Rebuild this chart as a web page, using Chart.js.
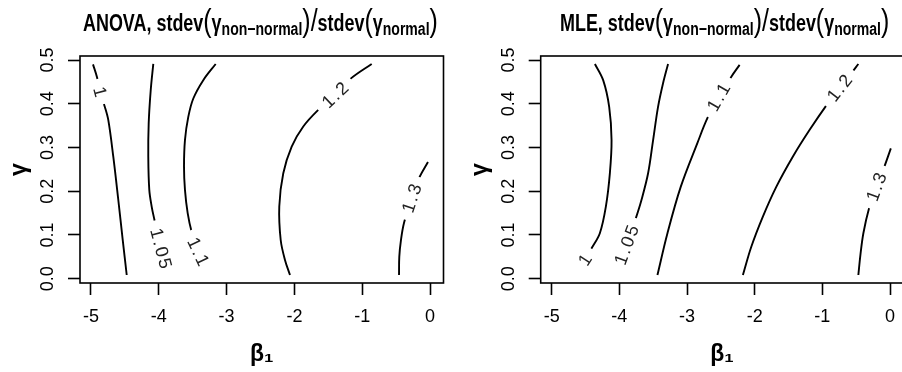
<!DOCTYPE html>
<html>
<head>
<meta charset="utf-8">
<script src="https://cdn.jsdelivr.net/npm/chart.js@4.4.1/dist/chart.umd.min.js"></script>
<style>
  html, body { margin: 0; padding: 0; background: #fff; }
  #wrap { position: relative; width: 902px; height: 372px; overflow: hidden; }
  .panel { position: absolute; top: 0; height: 372px; }
  .title {
    position: absolute; top: 2px; white-space: nowrap; color: #000;
    font: bold 23px "Liberation Sans", Arial, sans-serif; line-height: 36px;
    transform: scaleX(0.78); transform-origin: 0 0;
  }
  .title .p { font-size: 32px; font-weight: normal; }
  .title sub { font-size: 18px; vertical-align: -4px; line-height: 0; }
</style>
</head>
<body>
<div id="wrap">
  <div class="panel" style="left:0"><canvas id="anovaChart" width="451" height="372"></canvas></div>
  <div class="panel" style="left:451px"><canvas id="mleChart" width="460" height="372"></canvas></div>
  <div class="title" style="left:83px">ANOVA, stdev<span class="p">(</span>γ<sub>non−normal</sub><span class="p">)/</span>stdev<span class="p">(</span>γ<sub>normal</sub><span class="p">)</span></div>
  <div class="title" style="left:560px">MLE, stdev<span class="p">(</span>γ<sub>non−normal</sub><span class="p">)/</span>stdev<span class="p">(</span>γ<sub>normal</sub><span class="p">)</span></div>
</div>
<script>
// axes
const xTicks = [-5, -4, -3, -2, -1, 0];
const xTickLabels = ["-5", "-4", "-3", "-2", "-1", "0"];
const yTicks = [0, 0.1, 0.2, 0.3, 0.4, 0.5];
const yTickLabels = ["0.0", "0.1", "0.2", "0.3", "0.4", "0.5"];
const levels = ["1", "1.05", "1.1", "1.2", "1.3"];

// ANOVA contours, [beta1, gamma]
const anova100 = [[-4.97, 0.49], [-4.91, 0.46], [-4.867, 0.4275], [-4.80, 0.395], [-4.745, 0.363], [-4.671, 0.279], [-4.597, 0.18], [-4.532, 0.089], [-4.473, 0.0085]];
const anova105 = [[-4.081, 0.491], [-4.119, 0.431], [-4.149, 0.355], [-4.155, 0.279], [-4.14, 0.203], [-4.105, 0.165], [-4.066, 0.136], [-3.968, 0.0695], [-3.879, 0.027]];
const anova110 = [[-3.161, 0.491], [-3.344, 0.454], [-3.491, 0.412], [-3.565, 0.37], [-3.614, 0.317], [-3.628, 0.256], [-3.614, 0.203], [-3.574, 0.15], [-3.515, 0.107], [-3.417, 0.062], [-3.293, 0.035]];
const anova120 = [[-0.86, 0.491], [-1.165, 0.458], [-1.401, 0.42], [-1.648, 0.386], [-1.869, 0.348], [-2.04, 0.302], [-2.164, 0.241], [-2.223, 0.165], [-2.202, 0.0885], [-2.139, 0.043], [-2.065, 0.0085]];
const anova130 = [[-0.03, 0.267], [-0.162, 0.23], [-0.27, 0.184], [-0.383, 0.128], [-0.428, 0.089], [-0.453, 0.05], [-0.457, 0.0085]];
const anovaLabelAt = [2, 7, 9, 2, 2];

// MLE contours
const mle100 = [[-4.361, 0.491], [-4.239, 0.454], [-4.15, 0.393], [-4.115, 0.317], [-4.14, 0.241], [-4.199, 0.165], [-4.288, 0.104], [-4.41, 0.0695], [-4.509, 0.043], [-4.597, 0.0245]];
const mle105 = [[-3.28, 0.491], [-3.354, 0.447], [-3.428, 0.393], [-3.501, 0.317], [-3.575, 0.241], [-3.673, 0.18], [-3.757, 0.138], [-3.894, 0.077], [-3.993, 0.039]];
const mle110 = [[-2.223, 0.489], [-2.345, 0.462], [-2.532, 0.415], [-2.699, 0.367], [-2.847, 0.31], [-3.093, 0.21], [-3.289, 0.104], [-3.437, 0.0085]];
const mle120 = [[-0.468, 0.491], [-0.571, 0.47], [-0.748, 0.436], [-0.92, 0.401], [-1.19, 0.34], [-1.437, 0.279], [-1.681, 0.21], [-1.879, 0.142], [-2.05, 0.073], [-2.174, 0.0085]];
const mle130 = [[0.012, 0.298], [-0.084, 0.256], [-0.202, 0.21], [-0.31, 0.161], [-0.394, 0.104], [-0.438, 0.054], [-0.468, 0.0085]];
const mleLabelAt = [8, 7, 2, 2, 2];

const FONT = '"Liberation Sans", Arial, sans-serif';
const INK = "#000";

// R style: contour labels sit in a gap of the line, turned along it
const contourLabels = {
  id: "contourLabels",
  afterDatasetsDraw(chart, args, opts) {
    const { ctx, scales: { x, y } } = chart;
    ctx.save();
    ctx.font = "18px " + FONT;
    ctx.letterSpacing = "2px";
    ctx.textAlign = "center";
    ctx.textBaseline = "middle";
    chart.data.datasets.forEach((ds, i) => {
      const pts = opts.lines[i];
      const k = opts.labelAt[i];
      const a = pts[Math.max(k - 1, 0)];
      const b = pts[Math.min(k + 1, pts.length - 1)];
      let ang = Math.atan2(y.getPixelForValue(b[1]) - y.getPixelForValue(a[1]),
                           x.getPixelForValue(b[0]) - x.getPixelForValue(a[0]));
      if (ang > Math.PI / 2) ang -= Math.PI;
      if (ang <= -Math.PI / 2) ang += Math.PI;
      const w = ctx.measureText(opts.levels[i]).width + 14;
      ctx.save();
      ctx.translate(x.getPixelForValue(pts[k][0]), y.getPixelForValue(pts[k][1]));
      ctx.rotate(ang);
      ctx.fillStyle = "#fff";
      ctx.fillRect(-w / 2, -8, w, 16);
      ctx.fillStyle = "#222";
      ctx.fillText(opts.levels[i], 1, 1);
      ctx.restore();
    });
    ctx.restore();
  },
};

// box round the plot region and the turned y tick labels
const rFrame = {
  id: "rFrame",
  afterDraw(chart) {
    const { ctx, chartArea: ca, scales: { y } } = chart;
    ctx.save();
    ctx.strokeStyle = INK;
    ctx.lineWidth = 1.6;
    ctx.strokeRect(ca.left, ca.top, ca.right - ca.left, ca.bottom - ca.top);
    ctx.fillStyle = INK;
    ctx.font = "18px " + FONT;
    ctx.textAlign = "center";
    ctx.textBaseline = "middle";
    yTicks.forEach((v, i) => {
      ctx.save();
      ctx.translate(ca.left - 33, y.getPixelForValue(v));
      ctx.rotate(-Math.PI / 2);
      ctx.fillText(yTickLabels[i], 0, 1);
      ctx.restore();
    });
    ctx.restore();
  },
};

function makeChart(id, lines, labelAt, padLeft) {
  return new Chart(document.getElementById(id), {
    type: "scatter",
    data: {
      datasets: lines.map((pts, i) => ({
        label: levels[i],
        data: pts.map(([bx, gy]) => ({ x: bx, y: gy })),
        showLine: true,
        borderColor: INK,
        borderWidth: 1.9,
        pointRadius: 0,
        tension: 0.35,
      })),
    },
    options: {
      responsive: false,
      animation: false,
      layout: { padding: { left: padLeft, top: 56, right: 7.5, bottom: 0 } },
      plugins: {
        legend: { display: false },
        tooltip: { enabled: false },
        contourLabels: { lines, labelAt, levels },
      },
      scales: {
        x: {
          type: "linear",
          min: -5.162,
          max: 0.199,
          afterBuildTicks: (s) => { s.ticks = xTicks.map((v) => ({ value: v })); },
          afterFit: (s) => { s.height = 89; },
          ticks: {
            color: INK,
            font: { family: FONT, size: 18 },
            padding: 11,
            maxRotation: 0,
            callback: (v, i) => xTickLabels[i],
          },
          grid: { drawOnChartArea: false, drawTicks: true, tickLength: 12, color: INK, tickWidth: 1.6 },
          border: { display: false },
          title: {
            display: true,
            text: "β₁",
            color: INK,
            font: { family: FONT, size: 23, weight: "bold" },
            padding: { top: 0, bottom: 4 },
          },
        },
        y: {
          type: "linear",
          min: -0.0098,
          max: 0.5092,
          afterBuildTicks: (s) => { s.ticks = yTicks.map((v) => ({ value: v })); },
          afterFit: (s) => { s.width = 80; },
          ticks: { display: false },
          grid: { drawOnChartArea: false, drawTicks: true, tickLength: 12, color: INK, tickWidth: 1.6 },
          border: { display: false },
          title: {
            display: true,
            text: "γ",
            color: INK,
            font: { family: FONT, size: 23, weight: "bold" },
            padding: { top: 6, bottom: 0 },
          },
        },
      },
    },
    plugins: [contourLabels, rFrame],
  });
}

makeChart("anovaChart", [anova100, anova105, anova110, anova120, anova130], anovaLabelAt, 0);
makeChart("mleChart", [mle100, mle105, mle110, mle120, mle130], mleLabelAt, 9.7);
</script>
</body>
</html>
